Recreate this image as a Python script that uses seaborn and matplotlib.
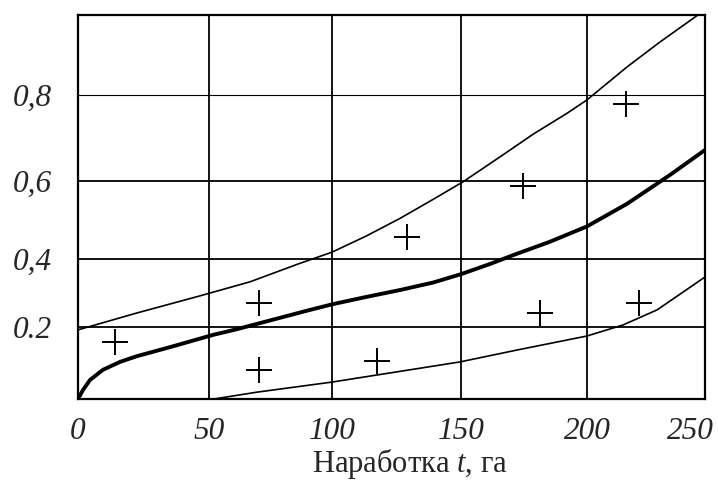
import numpy as np
import pandas as pd
import matplotlib
matplotlib.use("Agg")
import matplotlib.pyplot as plt
import matplotlib.transforms as mtransforms
import seaborn as sns

# t in ha, F(t) probability
upper_t = [0, 22.5, 46.6, 66.7, 87.0, 99.9, 113.4, 126.4, 139.3, 150.9, 165.5, 178.7,
           192.0, 199.9, 216.9, 230.9, 247.0]
upper_f = [0.192, 0.241, 0.291, 0.332, 0.386, 0.416, 0.458, 0.503, 0.552, 0.597, 0.655, 0.708,
           0.756, 0.787, 0.869, 0.932, 1.0]

mid_t = [0, 1.9, 4.6, 9.5, 16.0, 22.5, 35.1, 51.6, 61.4, 91.1, 100.5, 113.4, 126.4, 139.3,
         150.3, 161.5, 172.1, 185.3, 199.9, 216.9, 235.2, 250]
mid_f = [0, 0.025, 0.053, 0.081, 0.103, 0.119, 0.144, 0.178, 0.194, 0.250, 0.267, 0.288, 0.308, 0.330,
         0.355, 0.384, 0.412, 0.443, 0.482, 0.540, 0.613, 0.671]

lower_t = [52, 69.5, 100, 149.6, 172.2, 200, 215.3, 229.7, 240.7, 250]
lower_f = [0, 0.019, 0.047, 0.103, 0.136, 0.175, 0.206, 0.250, 0.302, 0.346]

obs_t = [14.1, 70.3, 70.3, 117.4, 129.1, 174.6, 216.5, 181.3, 222.0]
obs_f = [0.158, 0.270, 0.081, 0.106, 0.455, 0.586, 0.778, 0.241, 0.270]

x_ticks = [0, 50, 100, 150, 200, 250]
x_labels = ["0", "50", "100", "150", "200", "250"]
y_ticks = [0.2, 0.4, 0.6, 0.8]
y_labels = ["0.2", "0,4", "0,6", "0,8"]

# the paper grid is not evenly spaced, so the axes use a piecewise scale
x_knots = [0, 50, 100, 150, 200, 250]
x_knot_pos = [0, 131, 254, 383, 509, 627]
y_knots = [0, 0.2, 0.4, 0.6, 0.8, 1.0]
y_knot_pos = [0, 72, 140.5, 218.5, 304.5, 384]


def piecewise(knots, pos):
    fwd = lambda v: np.interp(v, knots, pos, left=np.nan, right=np.nan)
    inv = lambda v: np.interp(v, pos, knots, left=np.nan, right=np.nan)
    return fwd, inv


sns.set_style("white")
plt.rcParams["font.family"] = ["Liberation Serif", "DejaVu Serif"]
plt.rcParams["mathtext.fontset"] = "custom"
plt.rcParams["mathtext.rm"] = "Liberation Serif"
plt.rcParams["mathtext.it"] = "Liberation Serif:italic"

fig = plt.figure(figsize=(7.18, 4.84), dpi=100)
ax = fig.add_axes([78 / 718, 85 / 484, 627 / 718, 384 / 484])

ax.set_xscale("function", functions=piecewise(x_knots, x_knot_pos))
ax.set_yscale("function", functions=piecewise(y_knots, y_knot_pos))

up = pd.DataFrame({"t": upper_t, "F": upper_f})
mid = pd.DataFrame({"t": mid_t, "F": mid_f})
low = pd.DataFrame({"t": lower_t, "F": lower_f})
obs = pd.DataFrame({"t": obs_t, "F": obs_f})

sns.lineplot(data=up, x="t", y="F", color="black", lw=1.2, estimator=None, ax=ax)
sns.lineplot(data=mid, x="t", y="F", color="black", lw=2.8, estimator=None, ax=ax)
sns.lineplot(data=low, x="t", y="F", color="black", lw=1.2, estimator=None, ax=ax)
sns.scatterplot(data=obs, x="t", y="F", marker="+", s=340, color="black",
                linewidth=1.4, ax=ax, zorder=5)

ax.set_xlim(0, 250)
ax.set_ylim(0, 1.0)
ax.set_xticks(x_ticks)
ax.set_xticklabels(x_labels, fontsize=22.5, style="italic")
ax.set_yticks(y_ticks)
ax.set_yticklabels(y_labels, fontsize=22.5, style="italic")
ax.tick_params(axis="x", length=0, pad=13)
ax.tick_params(axis="y", length=0, pad=19)

# last x label sits inside the figure edge
lab = ax.get_xticklabels()[-1]
lab.set_transform(lab.get_transform() + mtransforms.ScaledTranslation(-15 / 100, 0, fig.dpi_scale_trans))

ax.grid(True, color="black", lw=1.3)
ax.get_ygridlines()[3].set_linewidth(0.8)
for s in ax.spines.values():
    s.set_color("black")
    s.set_linewidth(1.6)

ax.set_xlabel("Наработка $t$, га", fontsize=22)
ax.xaxis.set_label_coords(0.53, -0.125)
ax.set_ylabel("")

fig.savefig("out.png", dpi=100)
